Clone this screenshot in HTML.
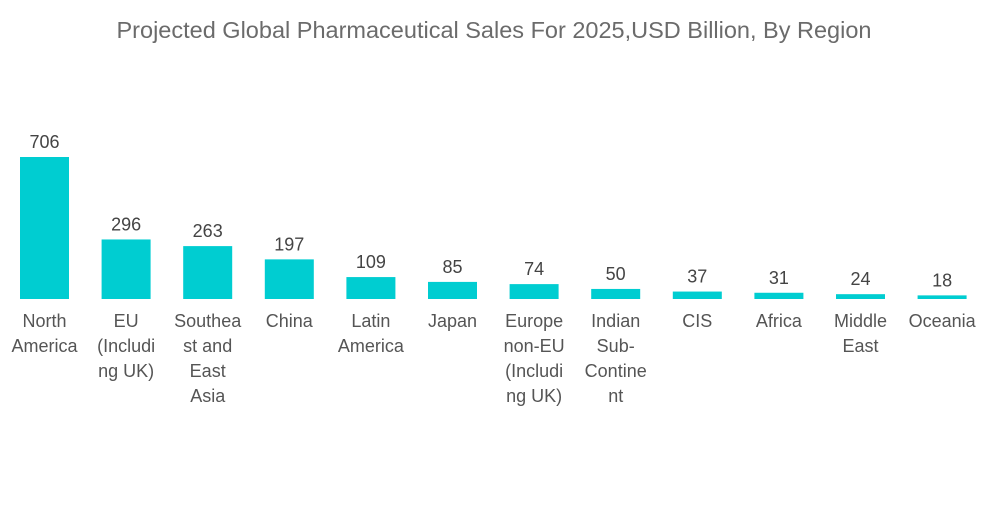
<!DOCTYPE html>
<html><head><meta charset="utf-8"><style>
body{margin:0;background:#fff;width:1000px;height:504px;overflow:hidden;font-family:"Liberation Sans",sans-serif}
</style></head><body>
<svg id="chart" width="1000" height="504" xmlns="http://www.w3.org/2000/svg">
<text x="494" y="38" text-anchor="middle" font-size="23.5" fill="#6b6b6b" font-family="Liberation Sans, sans-serif">Projected Global Pharmaceutical Sales For 2025,USD Billion,  By Region</text>
<g id="bars"></g>
</svg>
<script>
const categories=[["North","America"],["EU","(Includi","ng UK)"],["Southea","st and","East","Asia"],["China"],["Latin","America"],["Japan"],["Europe","non-EU","(Includi","ng UK)"],["Indian","Sub-","Contine","nt"],["CIS"],["Africa"],["Middle","East"],["Oceania"]];
const values=[706,296,263,197,109,85,74,50,37,31,24,18];
const baseY=299, scale=142/706, x0=44.5, step=81.6, bw=49;
const xPos=i=>x0+i*step;
const yPos=v=>baseY-v*scale;
const g=document.getElementById('bars');
const NS='http://www.w3.org/2000/svg';
values.forEach((v,i)=>{
  const r=document.createElementNS(NS,'rect');
  r.setAttribute('x',xPos(i)-bw/2);r.setAttribute('y',yPos(v));
  r.setAttribute('width',bw);r.setAttribute('height',baseY-yPos(v));
  r.setAttribute('fill','#00cdd1');
  
  
  g.appendChild(r);
  const t=document.createElementNS(NS,'text');
  t.setAttribute('x',xPos(i));t.setAttribute('y',yPos(v)-9);
  t.setAttribute('text-anchor','middle');t.setAttribute('font-size','18');t.setAttribute('fill','#444');
  t.textContent=v;
  
  
  g.appendChild(t);
  const c=document.createElementNS(NS,'text');
  c.setAttribute('text-anchor','middle');c.setAttribute('font-size','18');c.setAttribute('fill','#555');
  
  
  categories[i].forEach((line,j)=>{
    const s=document.createElementNS(NS,'tspan');
    s.setAttribute('x',xPos(i));s.setAttribute('y',327+j*25);s.textContent=line;
    c.appendChild(s);
  });
  g.appendChild(c);
});
</script>
</body></html>
